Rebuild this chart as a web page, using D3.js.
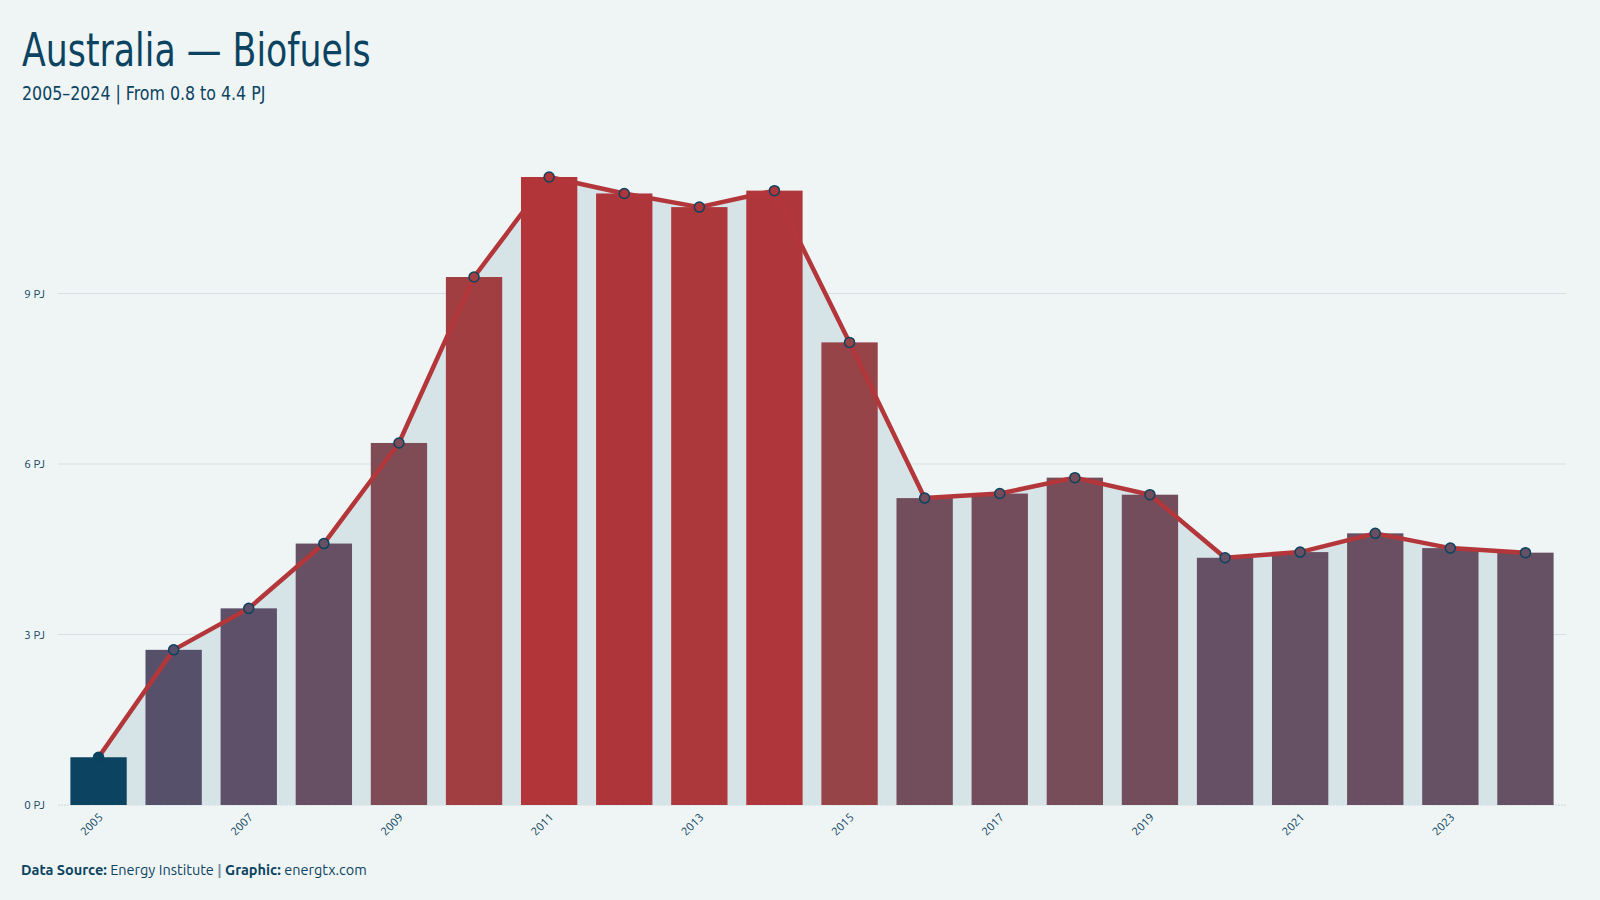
<!DOCTYPE html>
<html>
<head>
<meta charset="utf-8">
<script src="https://cdn.jsdelivr.net/npm/d3@7"></script>
<style>
  html, body { margin: 0; padding: 0; background: #eff5f5; }
  svg text { fill: #0b4360; }
  .title { font-family: "Ubuntu Condensed", "Liberation Sans Narrow", "DejaVu Sans Condensed", sans-serif; }
  .small { font-family: "Ubuntu", "Noto Sans", "Open Sans", sans-serif; }
</style>
</head>
<body>
<div id="Chart"></div>
<script>
const years  = [2005, 2006, 2007, 2008, 2009, 2010, 2011, 2012, 2013, 2014,
                2015, 2016, 2017, 2018, 2019, 2020, 2021, 2022, 2023, 2024];
const values = [0.84, 2.73, 3.46, 4.60, 6.37, 9.29, 11.05, 10.76, 10.52, 10.81,
                8.14, 5.40, 5.48, 5.76, 5.46, 4.35, 4.45, 4.78, 4.52, 4.44];
const yTicks = [0, 3, 6, 9];
const colorStops  = [0.84, 2.7, 4.5, 6.4, 8.1, 11.05];
const colorRange  = ["#0b4360", "#57506b", "#665064", "#7f4b55", "#964447", "#b13539"];

const dims = {
  width: 1600, height: 900,
  left: 58, right: 34, top: 123, bottom: 95
};

const svg = d3.select("#Chart")
  .append("svg")
    .attr("width", dims.width)
    .attr("height", dims.height)
    .attr("xmlns", "http://www.w3.org/2000/svg");

svg.append("rect").attr("width", dims.width).attr("height", dims.height).attr("fill", "#eff5f5");

const baseY = dims.height - dims.bottom;
const xScale = d3.scaleBand(years, [dims.left, dims.width - dims.right])
  .paddingInner(0.25).paddingOuter(0.165);
const yScale = d3.scaleLinear([0, 12], [baseY, dims.top]);
const colorScale = d3.scaleLinear(colorStops, colorRange);

const rows = years.map((year, i) => ({ year, value: values[i] }));
const cx = d => xScale(d.year) + xScale.bandwidth() / 2;

// grid
svg.append("g")
  .selectAll("line")
  .data(yTicks.filter(t => t > 0))
  .join("line")
    .attr("x1", dims.left).attr("x2", dims.width - dims.right)
    .attr("y1", d => yScale(d)).attr("y2", d => yScale(d))
    .attr("stroke", "#d3dfe3").attr("stroke-width", 1.2);
svg.append("line")
  .attr("x1", dims.left).attr("x2", dims.width - dims.right)
  .attr("y1", baseY).attr("y2", baseY)
  .attr("stroke", "#c9d6db").attr("stroke-dasharray", "2 1");

// y labels
svg.append("g")
  .selectAll("text")
  .data(yTicks)
  .join("text")
    .attr("class", "small")
    .attr("x", 45).attr("y", d => yScale(d) + 4)
    .attr("text-anchor", "end")
    .attr("font-size", 11.5)
    .text(d => d + " PJ");

// area under line
svg.append("path")
  .datum(rows)
  .attr("fill", "#d6e3e7")
  .attr("d", d3.area().x(cx).y0(baseY).y1(d => yScale(d.value)));

// bars
svg.append("g")
  .selectAll("rect")
  .data(rows)
  .join("rect")
    .attr("x", d => xScale(d.year))
    .attr("y", d => yScale(d.value))
    .attr("width", xScale.bandwidth())
    .attr("height", d => baseY - yScale(d.value))
    .attr("fill", d => colorScale(d.value));

// line
svg.append("path")
  .datum(rows)
  .attr("fill", "none")
  .attr("stroke", "#b3373a")
  .attr("stroke-width", 4.5)
  .attr("stroke-linejoin", "round")
  .attr("d", d3.line().x(cx).y(d => yScale(d.value)));

// dots
svg.append("g")
  .selectAll("circle")
  .data(rows)
  .join("circle")
    .attr("cx", cx)
    .attr("cy", d => yScale(d.value))
    .attr("r", 5)
    .attr("fill", d => colorScale(d.value))
    .attr("stroke", "#0b4360")
    .attr("stroke-width", 1.5);

// x labels
svg.append("g")
  .selectAll("text")
  .data(rows.filter((d, i) => i % 2 === 0))
  .join("text")
    .attr("class", "small")
    .attr("font-size", 11.5)
    .attr("text-anchor", "end")
    .attr("transform", d => `translate(${cx(d) + 5} ${baseY + 13}) rotate(-45)`)
    .text(d => d.year);

// titles (no condensed face installed, so squeeze horizontally)
svg.append("text")
  .attr("class", "title")
  .attr("transform", "translate(22 66) scale(0.84 1)")
  .attr("font-size", 46)
  .text("Australia — Biofuels");
svg.append("text")
  .attr("class", "title")
  .attr("transform", "translate(22 100) scale(0.88 1)")
  .attr("font-size", 20)
  .text("2005–2024 | From 0.8 to 4.4 PJ");

const foot = svg.append("text")
  .attr("class", "small")
  .attr("x", 21).attr("y", 875)
  .attr("font-size", 14.5);
foot.append("tspan").attr("font-weight", "bold").text("Data Source:");
foot.append("tspan").text(" Energy Institute ");
foot.append("tspan").attr("fill", "#7d93a3").attr("font-weight", "bold").text("|");
foot.append("tspan").attr("font-weight", "bold").text(" Graphic:");
foot.append("tspan").text(" energtx.com");
</script>
</body>
</html>
